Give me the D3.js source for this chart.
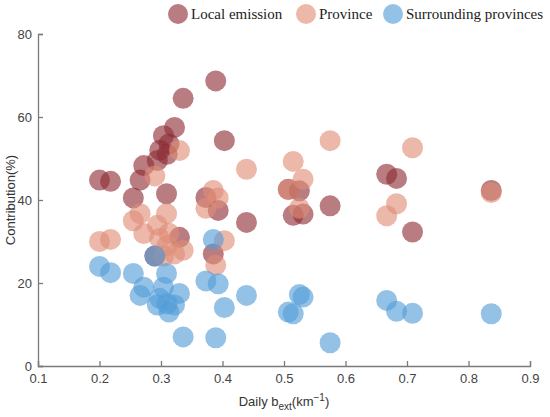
<!DOCTYPE html>
<html>
<head>
<meta charset="utf-8">
<script src="https://cdn.jsdelivr.net/npm/d3@7"></script>
<style>
  body { margin: 0; background: #fff; }
  .tick text { font-family: "Liberation Sans", Arial, sans-serif; font-size: 13px; fill: #444; }
  .axis path, .axis line { stroke: #7a7a7a; stroke-width: 1.3; }
</style>
</head>
<body>
<svg id="chart" width="550" height="417"></svg>
<script>
// one entry per day: daily extinction and the three contribution shares
const bext = [0.200, 0.218, 0.255, 0.266, 0.272, 0.290, 0.294, 0.298, 0.304, 0.309,
              0.310, 0.313, 0.322, 0.330, 0.336, 0.373, 0.385, 0.389, 0.393, 0.403,
              0.439, 0.507, 0.515, 0.525, 0.531, 0.575, 0.667, 0.683, 0.709, 0.837];
const localEmission = [44.8, 44.5, 40.5, 44.8, 48.3, 26.5, 49.5, 52.0, 55.5, 41.5,
                       51.0, 53.5, 57.5, 31.0, 64.5, 40.6, 27.0, 68.7, 37.5, 54.3,
                       34.6, 42.6, 36.3, 42.2, 36.6, 38.6, 46.2, 45.2, 32.3, 42.3];
const province = [30.0, 30.5, 35.0, 36.7, 31.9, 45.8, 33.9, 30.7, 26.5, 36.7,
                  29.0, 32.0, 27.0, 51.9, 27.9, 38.0, 42.3, 24.3, 40.5, 30.2,
                  47.4, 42.5, 49.3, 38.0, 45.0, 54.3, 36.2, 39.1, 52.6, 41.8];
const surrounding = [24.0, 22.5, 22.3, 17.0, 19.0, 26.5, 14.7, 16.3, 19.0, 22.3,
                     15.0, 13.0, 14.7, 17.5, 7.0, 20.5, 30.5, 6.8, 19.8, 14.1,
                     17.0, 13.0, 12.6, 17.2, 16.6, 5.6, 15.8, 13.2, 12.7, 12.6];
const seriesNames = ["Local emission", "Province", "Surrounding provinces"];
const seriesColors = ["#8c2b33", "#df8c76", "#539dd9"];
const xTicks = [0.1, 0.2, 0.3, 0.4, 0.5, 0.6, 0.7, 0.8, 0.9];
const yTicks = [0, 20, 40, 60, 80];

const svg = d3.select("#chart");
const margin = { top: 34, right: 20, bottom: 51, left: 38 };
const width = +svg.attr("width");
const height = +svg.attr("height");

const x = d3.scaleLinear().domain([0.1, 0.9]).range([margin.left, width - margin.right]);
const y = d3.scaleLinear().domain([0, 80]).range([height - margin.bottom, margin.top]);

// axes, ticks pointing inward
svg.append("g")
    .attr("class", "axis")
    .attr("transform", `translate(0,${height - margin.bottom})`)
    .call(d3.axisBottom(x).tickValues(xTicks).tickFormat(d3.format(".1f"))
        .tickSizeInner(-5).tickSizeOuter(-5).tickPadding(8));

svg.append("g")
    .attr("class", "axis")
    .attr("transform", `translate(${margin.left},0)`)
    .call(d3.axisLeft(y).tickValues(yTicks)
        .tickSizeInner(-5).tickSizeOuter(-5).tickPadding(6));

// points
const allSeries = [localEmission, province, surrounding];
allSeries.forEach((vals, i) => {
    svg.append("g").selectAll("circle")
        .data(vals)
        .join("circle")
        .attr("cx", (d, j) => x(bext[j]))
        .attr("cy", d => y(d))
        .attr("r", 10.5)
        .attr("fill", seriesColors[i])
        .attr("fill-opacity", 0.62);
});

// axis labels
svg.append("text")
    .attr("transform", `translate(15,${(margin.top + height - margin.bottom) / 2}) rotate(-90)`)
    .attr("text-anchor", "middle")
    .attr("font-family", "Liberation Sans, Arial, sans-serif")
    .attr("font-size", 13)
    .attr("fill", "#333")
    .text("Contribution(%)");

const xl = svg.append("text")
    .attr("x", (margin.left + width - margin.right) / 2)
    .attr("y", 406)
    .attr("text-anchor", "middle")
    .attr("font-family", "Liberation Sans, Arial, sans-serif")
    .attr("font-size", 13)
    .attr("fill", "#333");
xl.append("tspan").text("Daily b");
xl.append("tspan").attr("dy", 4).attr("font-size", 10).text("ext");
xl.append("tspan").attr("dy", -4).text("(km");
xl.append("tspan").attr("dy", -5).attr("font-size", 10).text("\u2212" + "1");
xl.append("tspan").attr("dy", 5).text(")");

// legend
const legendX = [178, 306, 393];
const legend = svg.append("g").selectAll("g")
    .data(seriesNames)
    .join("g")
    .attr("transform", (d, i) => `translate(${legendX[i]},14)`);
legend.append("circle")
    .attr("r", 10)
    .attr("fill", (d, i) => seriesColors[i])
    .attr("fill-opacity", 0.62);
legend.append("text")
    .attr("x", 13)
    .attr("dy", "0.35em")
    .attr("font-family", "Liberation Serif, Times New Roman, serif")
    .attr("font-size", 15)
    .attr("fill", "#222")
    .text(d => d);
</script>
</body>
</html>
